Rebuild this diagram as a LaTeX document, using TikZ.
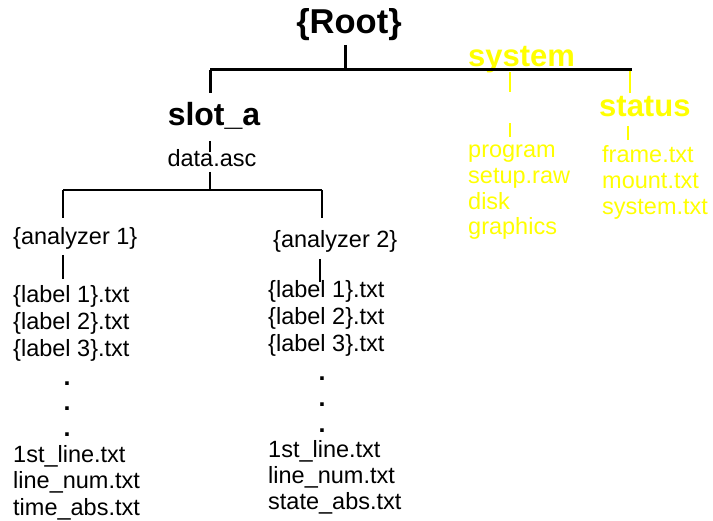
\documentclass[tikz,border=0pt]{standalone}
\usepackage{fontspec}
\setmainfont{Liberation Sans}
\definecolor{yel}{RGB}{255,255,0}
\begin{document}
\begin{tikzpicture}[x=1pt,y=-1pt,
  txt/.style={inner sep=0pt, anchor=base west, font=\fontsize{23.5}{26}\selectfont},
  hd/.style={inner sep=0pt, anchor=base west, font=\fontsize{31}{34}\selectfont\bfseries},
  dotn/.style={inner sep=0pt, anchor=base, font=\fontsize{25}{26}\selectfont\bfseries},
  main/.style={line width=3pt},
  thin/.style={line width=2.6pt},
  ylin/.style={line width=2.6pt, yel}]
\useasboundingbox (0,0) rectangle (713,521);

% headings
\node[hd, anchor=base, font=\fontsize{34.5}{36}\selectfont\bfseries] (root) at (349,34) {\{Root\}};
\node[hd, anchor=base, font=\fontsize{32}{34}\selectfont\bfseries] (slota) at (214,126) {slot\_a};
\node[txt, anchor=base] (data) at (212,167) {data.asc};
\node[hd, text=yel] (system) at (468,67) {system};
\node[hd, text=yel] (status) at (599,117) {status};

% yellow lists
\node[txt, text=yel] (prog) at (468,158) {program};
\node[txt, text=yel] (setup) at (468,184) {setup.raw};
\node[txt, text=yel] (disk) at (468,210) {disk};
\node[txt, text=yel] (graph) at (468,235) {graphics};
\node[txt, text=yel] (frame) at (602,163) {frame.txt};
\node[txt, text=yel] (mount) at (602,189) {mount.txt};
\node[txt, text=yel] (systxt) at (602,215) {system.txt};

% analyzers
\node[txt] (an1) at (13,245) {\{analyzer 1\}};
\node[txt] (an2) at (273,248) {\{analyzer 2\}};

% left column
\node[txt] (l1) at (13,303) {\{label 1\}.txt};
\node[txt] (l2) at (13,330) {\{label 2\}.txt};
\node[txt] (l3) at (13,357) {\{label 3\}.txt};
\node[dotn] (ld1) at (67,386) {.};
\node[dotn] (ld2) at (67,411) {.};
\node[dotn] (ld3) at (67,437) {.};
\node[txt] (lf1) at (13,463) {1st\_line.txt};
\node[txt] (lf2) at (13,489) {line\_num.txt};
\node[txt] (lf3) at (13,515) {time\_abs.txt};

% right column
\node[txt] (r1) at (268,298) {\{label 1\}.txt};
\node[txt] (r2) at (268,325) {\{label 2\}.txt};
\node[txt] (r3) at (268,352) {\{label 3\}.txt};
\node[dotn] (rd1) at (322,381) {.};
\node[dotn] (rd2) at (322,407) {.};
\node[dotn] (rd3) at (322,433) {.};
\node[txt] (rf1) at (268,458) {1st\_line.txt};
\node[txt] (rf2) at (268,484) {line\_num.txt};
\node[txt] (rf3) at (268,510) {state\_abs.txt};

% coordinates
\coordinate (rootdn) at (345,45);
\coordinate (barR) at (345,70);
\coordinate (barL) at (210,70);
\coordinate (barE) at (632,70);
\coordinate (slotup) at (210,93);
\coordinate (slott1) at (210,141);
\coordinate (slott2) at (210,152);
\coordinate (datadn) at (210,172);
\coordinate (bar2M) at (210,190);
\coordinate (bar2L) at (63,190);
\coordinate (bar2R) at (322,190);
\coordinate (an1up) at (63,218);
\coordinate (an2up) at (322,218);
\coordinate (an1t1) at (63,255);
\coordinate (an1t2) at (63,279);
\coordinate (an2t1) at (320,259);
\coordinate (an2t2) at (320,282);
\coordinate (sys1) at (510,72);
\coordinate (sys2) at (510,92);
\coordinate (sys3) at (510,123);
\coordinate (sys4) at (510,137);
\coordinate (st1) at (630,71);
\coordinate (st2) at (630,93);
\coordinate (st3) at (628,126);
\coordinate (st4) at (628,140);

% yellow connectors
\draw[ylin] (sys1) -- (sys2);
\draw[ylin] (sys3) -- (sys4);
\draw[ylin] (st1) -- (st2);
\draw[ylin] (st3) -- (st4);

% black connectors
\draw[main] (rootdn) -- (barR);
\draw[main] (barL) -- (barE);
\draw[main] (barL) -- (slotup);
\draw[line width=2pt] (slott1) -- (slott2);
\draw[thin] (datadn) -- (bar2M);
\draw[thin] (bar2L) -- (bar2R);
\draw[thin] (bar2L) -- (an1up);
\draw[thin] (bar2R) -- (an2up);
\draw[thin] (an1t1) -- (an1t2);
\draw[thin] (an2t1) -- (an2t2);
\end{tikzpicture}
\end{document}
